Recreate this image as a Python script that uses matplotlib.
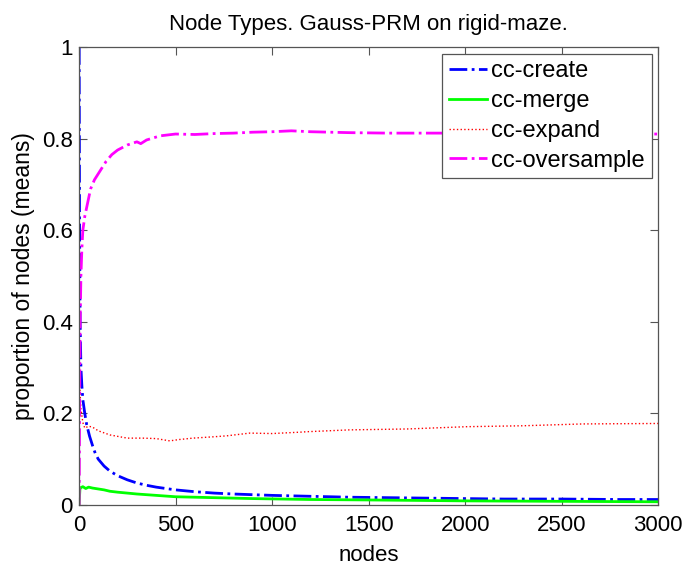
import matplotlib
matplotlib.use("Agg")
import matplotlib.pyplot as plt

plt.rcParams['font.family'] = ['Liberation Sans', 'DejaVu Sans']

title = "Node Types. Gauss-PRM on rigid-maze."
xlabel = "nodes"
ylabel = "proportion of nodes (means)"
x_ticks = [0, 500, 1000, 1500, 2000, 2500, 3000]
y_ticks = [0, 0.2, 0.4, 0.6, 0.8, 1.0]
y_tick_labels = ["0", "0.2", "0.4", "0.6", "0.8", "1"]

create_nodes = [1, 3, 6, 10, 15, 20, 30, 40, 55, 70, 85, 100, 130, 160, 200, 250, 300,
                350, 400, 500, 600, 700, 800, 1000, 1200, 1400, 1600, 1800, 2000, 2200,
                2500, 2800, 3000]
create_vals = [1.0, 0.62, 0.40, 0.30, 0.26, 0.23, 0.20, 0.175, 0.15, 0.13, 0.112, 0.100,
               0.085, 0.074, 0.064, 0.055, 0.048, 0.043, 0.039, 0.033, 0.029, 0.026,
               0.024, 0.021, 0.019, 0.017, 0.016, 0.015, 0.014, 0.013, 0.013, 0.012, 0.012]

merge_nodes = [1, 3, 5, 10, 20, 35, 50, 70, 100, 130, 160, 200, 250, 300, 400, 500, 700,
               900, 1200, 1500, 2000, 2500, 3000]
merge_vals = [0.0, 0.02, 0.035, 0.038, 0.040, 0.036, 0.039, 0.037, 0.035, 0.033, 0.030,
              0.028, 0.026, 0.024, 0.021, 0.018, 0.016, 0.014, 0.012, 0.011, 0.009, 0.008,
              0.007]

expand_nodes = [2, 5, 10, 20, 30, 50, 70, 100, 160, 250, 330, 400, 470, 520, 590, 700,
                765, 885, 1000, 1145, 1180, 1400, 1700, 2010, 2300, 2610, 3000]
expand_vals = [0.30, 0.25, 0.21, 0.18, 0.168, 0.172, 0.17, 0.162, 0.153, 0.146, 0.146,
               0.145, 0.140, 0.143, 0.146, 0.149, 0.151, 0.157, 0.156, 0.159, 0.160,
               0.164, 0.166, 0.171, 0.173, 0.177, 0.178]

oversample_nodes = [1, 3, 6, 10, 15, 20, 30, 45, 60, 80, 110, 140, 170, 200, 250, 300,
                    320, 350, 420, 500, 600, 700, 800, 900, 1000, 1100, 1200, 1400, 1600,
                    1800, 2000, 2300, 2600, 3000]
oversample_vals = [0.0, 0.2, 0.4, 0.5, 0.56, 0.6, 0.63, 0.66, 0.69, 0.71, 0.73, 0.75,
                   0.765, 0.775, 0.786, 0.793, 0.789, 0.797, 0.806, 0.81, 0.809, 0.811,
                   0.812, 0.814, 0.815, 0.817, 0.815, 0.813, 0.812, 0.812, 0.812, 0.811,
                   0.81, 0.81]

fig = plt.figure(figsize=(6.88, 5.65), dpi=100)
ax = fig.add_axes([0.1148, 0.1062, 0.842, 0.8106])

ax.plot(create_nodes, create_vals, color='#0000ff', linestyle='-.', linewidth=2,
        label='cc-create')
ax.plot(merge_nodes, merge_vals, color='#00ff00', linestyle='-', linewidth=2,
        label='cc-merge')
ax.plot(expand_nodes, expand_vals, color='#ff0000', linestyle=':', linewidth=1,
        label='cc-expand')
ax.plot(oversample_nodes, oversample_vals, color='#ff00ff', linestyle='-.', linewidth=2,
        label='cc-oversample')

ax.set_xlim(0, 3000)
ax.set_ylim(0, 1)
ax.set_xticks(x_ticks)
ax.set_yticks(y_ticks)
ax.set_yticklabels(y_tick_labels)
ax.tick_params(direction='in', top=True, right=True, labelsize=16, length=6,
               width=0.8, color='#555555')
ax.tick_params(axis='x', pad=7.5)
ax.tick_params(axis='y', pad=4.5)
for s in ax.spines.values():
    s.set_color('#555555')
    s.set_linewidth(0.9)

ax.set_title(title, fontsize=16, pad=12)
ax.set_xlabel(xlabel, fontsize=16, labelpad=6)
ax.set_ylabel(ylabel, fontsize=16.5, labelpad=5)

leg = ax.legend(loc='upper right', fontsize=17, frameon=True, fancybox=False,
                framealpha=1, edgecolor='#555555', handlelength=1.6, handletextpad=0.2,
                borderaxespad=0.28, labelspacing=0.33, borderpad=0.28)
leg.get_frame().set_linewidth(0.9)

fig.savefig('out.png', dpi=100)
